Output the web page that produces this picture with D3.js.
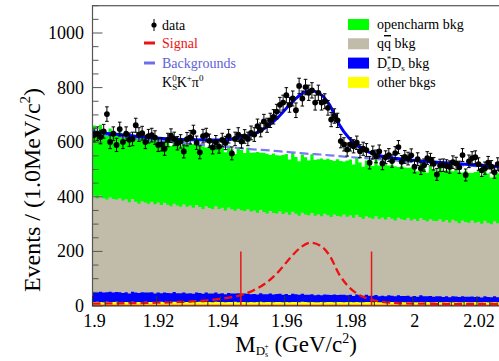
<!DOCTYPE html>
<html>
<head>
<meta charset="utf-8">
<script src="https://cdn.jsdelivr.net/npm/d3@7"></script>
<style>
  body { margin: 0; background: #fff; }
  svg { display: block; font-family: "Liberation Serif", "DejaVu Serif", serif; }
</style>
</head>
<body>
<div id="chart"></div>
<script>
// 1 MeV bins starting at 1.900 GeV
const binLow = 1.9;
const binWidth = 0.001;

const dataCounts = [
  626, 631, 619, 640, 703, 601, 631, 590, 648, 601,
  631, 609, 612, 662, 628, 633, 601, 622, 626, 617,
  590, 592, 576, 608, 624, 612, 596, 603, 566, 611,
  618, 637, 598, 563, 622, 626, 605, 581, 600, 584,
  608, 597, 622, 559, 612, 628, 603, 621, 612, 634,
  628, 659, 645, 676, 662, 680, 693, 712, 737, 745,
  772, 737, 760, 717, 806, 760, 802, 781, 790, 745,
  781, 745, 750, 726, 683, 696, 680, 604, 592, 573,
  592, 585, 598, 567, 576, 571, 525, 562, 548, 566,
  522, 545, 553, 531, 560, 582, 528, 546, 540, 552,
  510, 538, 504, 516, 542, 536, 521, 482, 515, 516,
  513, 509, 527, 522, 508, 553, 480, 530, 542, 545,
  520, 497, 505, 525, 510, 490, 520, 498, 515, 505
];

const openCharm = [
  257, 246, 259, 248, 236, 252, 250, 239, 252, 241,
  240, 249, 235, 243, 246, 231, 244, 238, 229, 241,
  236, 226, 240, 229, 221, 235, 231, 224, 236, 226,
  222, 233, 219, 228, 230, 216, 229, 225, 215, 227,
  224, 213, 227, 219, 208, 223, 220, 212, 226, 215,
  212, 222, 208, 217, 219, 205, 218, 213, 204, 216,
  214, 203, 217, 208, 199, 213, 210, 201, 215, 205,
  202, 211, 198, 207, 209, 196, 208, 203, 194, 206,
  205, 195, 208, 200, 190, 204, 201, 193, 205, 196,
  193, 202, 189, 197, 199, 186, 196, 192, 183, 194,
  193, 183, 196, 188, 178, 192, 189, 181, 194, 185,
  182, 191, 178, 187, 189, 176, 187, 183, 174, 186,
  186, 176, 189, 181, 172, 186, 183, 175, 187, 178
];

const qqbar = [
  353, 345, 353, 346, 340, 346, 343, 339, 345, 338,
  341, 334, 340, 333, 327, 334, 330, 326, 332, 327,
  330, 323, 329, 323, 318, 324, 321, 317, 324, 318,
  321, 315, 321, 315, 310, 316, 313, 309, 316, 310,
  313, 307, 313, 308, 303, 309, 306, 302, 309, 303,
  306, 300, 306, 301, 296, 302, 299, 295, 302, 296,
  299, 294, 300, 295, 290, 297, 294, 291, 298, 292,
  295, 290, 296, 291, 286, 293, 290, 287, 294, 288,
  291, 286, 292, 287, 282, 288, 285, 282, 289, 283,
  286, 281, 287, 282, 277, 284, 281, 278, 285, 279,
  282, 277, 283, 279, 274, 281, 278, 275, 282, 276,
  279, 274, 280, 275, 270, 277, 274, 271, 278, 272,
  275, 270, 276, 271, 267, 274, 271, 268, 275, 269
];

const dsds = [
  36, 33, 37, 35, 34, 37, 34, 35, 36, 33,
  35, 32, 36, 34, 33, 36, 33, 34, 35, 32,
  34, 31, 35, 33, 32, 35, 32, 33, 34, 31,
  33, 30, 34, 32, 31, 34, 31, 32, 33, 30,
  32, 29, 33, 31, 30, 33, 30, 31, 31, 28,
  30, 27, 31, 29, 28, 31, 28, 29, 30, 27,
  29, 26, 30, 28, 27, 29, 26, 27, 28, 25,
  27, 24, 28, 26, 25, 28, 25, 26, 27, 24,
  26, 23, 27, 25, 24, 26, 23, 24, 25, 22,
  24, 21, 25, 23, 22, 25, 22, 23, 23, 20,
  23, 20, 24, 22, 21, 23, 20, 21, 22, 19,
  21, 18, 22, 20, 19, 22, 19, 20, 21, 18,
  20, 17, 21, 19, 18, 21, 18, 19, 19, 16
];

const otherBkg = [
  15, 16, 15, 14, 16, 15, 15, 16, 14, 15,
  15, 14, 16, 15, 15, 14, 16, 15, 15, 14,
  15, 16, 14, 15, 15, 16, 15, 14, 15, 15,
  14, 15, 15, 16, 14, 15, 15, 14, 16, 15,
  15, 14, 15, 15, 16, 14, 15, 15, 14, 15,
  14, 15, 16, 14, 15, 15, 14, 15, 15, 14,
  15, 14, 15, 15, 14, 16, 15, 14, 15, 14,
  14, 15, 14, 15, 15, 14, 15, 15, 14, 15,
  15, 14, 15, 14, 14, 15, 15, 14, 15, 14,
  14, 15, 14, 15, 14, 14, 15, 14, 15, 14,
  14, 14, 15, 14, 15, 14, 14, 15, 14, 14,
  15, 14, 14, 15, 14, 14, 15, 14, 14, 15,
  14, 14, 15, 14, 14, 15, 14, 14, 15, 14
];

// fitted curves, read at these masses
const curveMass = [1.900, 1.910, 1.920, 1.930, 1.940, 1.946, 1.950, 1.954, 1.958, 1.962, 1.965, 1.968, 1.971,
                   1.974, 1.977, 1.980, 1.983, 1.986, 1.990, 1.995, 2.000, 2.010, 2.020, 2.030, 2.040];
const fitTotal = [637, 626, 615, 609, 608, 616, 629, 653, 692, 743, 775, 789, 777,
                  737, 665, 616, 585, 565, 550, 540, 534, 525, 516, 509, 502];
const bkgTotal = [632, 619, 606, 595, 584, 578, 574, 571, 567, 563, 560, 557, 555,
                  552, 549, 546, 543, 541, 537, 532, 528, 520, 512, 505, 498];
const signalShape = [9, 10, 12, 16, 26, 39, 56, 83, 125, 180, 215, 232, 222,
                     185, 116, 70, 42, 26, 16, 11, 9, 8, 8, 8, 8];

const cutMass = [1.9463, 1.9871];
const cutHeight = 200;

const xTickValues = [1.9, 1.92, 1.94, 1.96, 1.98, 2.0, 2.02];
const yTickValues = [0, 200, 400, 600, 800, 1000];

const layerKeys = ['other', 'dsds', 'qq', 'open'];
const layerColors = {open: '#00ff00', qq: '#c0bca9', dsds: '#0000ff', other: '#ffff00'};

const width = 499, height = 361;

const x = d3.scaleLinear().domain([1.9, 2.04]).range([92.5, 541]);
const y = d3.scaleLinear().domain([0, 1100]).range([306, 5.7]);

const svg = d3.select('#chart').append('svg')
    .attr('width', width)
    .attr('height', height);

svg.append('clipPath').attr('id', 'plotClip')
  .append('rect')
    .attr('x', x(1.9)).attr('y', y(1100))
    .attr('width', x(2.04) - x(1.9)).attr('height', y(0) - y(1100));

const plot = svg.append('g').attr('clip-path', 'url(#plotClip)');

// stacked MC histograms
const nBins = dataCounts.length;
const binEdges = d3.range(nBins + 1).map(i => binLow + i * binWidth);
const rows = d3.range(nBins).map(i => ({
  other: otherBkg[i], dsds: dsds[i], qq: qqbar[i], open: openCharm[i]
}));
const series = d3.stack().keys(layerKeys)(rows);

const stepArea = d3.area()
    .curve(d3.curveStepAfter)
    .x(d => x(d.edge))
    .y0(y(0))
    .y1(d => y(d.top));

series.slice().reverse().forEach(s => {
  const pts = s.map((d, i) => ({edge: binEdges[i], top: d[1]}));
  pts.push({edge: binEdges[nBins], top: s[nBins - 1][1]});
  plot.append('path')
      .attr('d', stepArea(pts))
      .attr('fill', layerColors[s.key]);
});

// red baseline
plot.append('line')
    .attr('x1', x(1.9)).attr('x2', x(2.04))
    .attr('y1', y(0) - 0.6).attr('y2', y(0) - 0.6)
    .attr('stroke', '#e00000').attr('stroke-width', 1.2);

const curveLine = vals => d3.line()
    .curve(d3.curveMonotoneX)
    .x((d, i) => x(curveMass[i]))
    .y(d => y(d))(vals);

// signal shape
plot.append('path')
    .attr('d', curveLine(signalShape))
    .attr('fill', 'none')
    .attr('stroke', '#ee1111')
    .attr('stroke-width', 2.3)
    .attr('stroke-dasharray', '8,4');

// signal window
plot.selectAll('.cut')
  .data(cutMass)
  .enter().append('line')
    .attr('class', 'cut')
    .attr('x1', d => x(d)).attr('x2', d => x(d))
    .attr('y1', y(0)).attr('y2', y(cutHeight))
    .attr('stroke', '#e81818')
    .attr('stroke-width', 1.5);

// background line
plot.append('path')
    .attr('d', curveLine(bkgTotal))
    .attr('fill', 'none')
    .attr('stroke', '#7a7af5')
    .attr('stroke-width', 2.2)
    .attr('stroke-dasharray', '9,4');

// total fit
plot.append('path')
    .attr('d', curveLine(fitTotal))
    .attr('fill', 'none')
    .attr('stroke', '#0000ff')
    .attr('stroke-width', 3);

// data with errors
const points = plot.selectAll('.pt')
  .data(dataCounts)
  .enter().append('g')
    .attr('class', 'pt')
    .attr('transform', (d, i) => `translate(${x(binLow + (i + 0.5) * binWidth)},0)`);

points.append('line')
    .attr('y1', d => y(d - Math.sqrt(d)))
    .attr('y2', d => y(d + Math.sqrt(d)))
    .attr('stroke', '#000').attr('stroke-width', 1);
points.append('line')
    .attr('x1', -1.8).attr('x2', 1.8)
    .attr('y1', d => y(d + Math.sqrt(d))).attr('y2', d => y(d + Math.sqrt(d)))
    .attr('stroke', '#000').attr('stroke-width', 1);
points.append('line')
    .attr('x1', -1.8).attr('x2', 1.8)
    .attr('y1', d => y(d - Math.sqrt(d))).attr('y2', d => y(d - Math.sqrt(d)))
    .attr('stroke', '#000').attr('stroke-width', 1);
points.append('circle')
    .attr('cy', d => y(d))
    .attr('r', 2.9)
    .attr('fill', '#000');

// frame and ticks
const axisColor = '#555';
svg.append('rect')
    .attr('x', x(1.9)).attr('y', y(1100))
    .attr('width', x(2.04) - x(1.9)).attr('height', y(0) - y(1100))
    .attr('fill', 'none').attr('stroke', axisColor).attr('stroke-width', 1.2);

const yMinor = d3.range(0, 1101, 50);
svg.selectAll('.ytick')
  .data(yMinor)
  .enter().append('line')
    .attr('x1', x(1.9))
    .attr('x2', d => x(1.9) + (d % 200 === 0 ? 10 : 6))
    .attr('y1', d => y(d)).attr('y2', d => y(d))
    .attr('stroke', axisColor).attr('stroke-width', 1);

const xMinor = d3.range(0, 36).map(i => 1.9 + i * 0.004);
svg.selectAll('.xtick')
  .data(xMinor)
  .enter().append('line')
    .attr('x1', d => x(d)).attr('x2', d => x(d))
    .attr('y1', y(0))
    .attr('y2', (d, i) => y(0) - (i % 5 === 0 ? 10 : 5))
    .attr('stroke', '#333').attr('stroke-width', 1);

svg.selectAll('.ylab')
  .data(yTickValues)
  .enter().append('text')
    .attr('x', 84)
    .attr('y', d => y(d) + 6)
    .attr('text-anchor', 'end')
    .attr('font-size', 18)
    .text(d => d);

svg.selectAll('.xlab')
  .data(xTickValues)
  .enter().append('text')
    .attr('x', d => x(d) + 2)
    .attr('y', 327)
    .attr('text-anchor', 'middle')
    .attr('font-size', 18)
    .text(d => d3.format('')(d));

// axis titles
const yTitle = svg.append('text')
    .attr('transform', 'translate(40,190) rotate(-90)')
    .attr('text-anchor', 'middle')
    .attr('font-size', 24);
yTitle.append('tspan').text('Events / (1.0MeV/c');
yTitle.append('tspan').attr('font-size', 15).attr('dy', -10).text('2');
yTitle.append('tspan').attr('dy', 10).text(')');

const xTitle = svg.append('text')
    .attr('x', 296).attr('y', 352)
    .attr('text-anchor', 'middle')
    .attr('font-size', 23);
xTitle.append('tspan').text('M');
xTitle.append('tspan').attr('font-size', 13).attr('dy', 3).text('D');
xTitle.append('tspan').attr('font-size', 8).attr('dy', 2).text('s');
xTitle.append('tspan').attr('font-size', 8).attr('dx', -4).attr('dy', -8).text('+');
xTitle.append('tspan').attr('dy', 3).text(' (GeV/c');
xTitle.append('tspan').attr('font-size', 14).attr('dy', -9).text('2');
xTitle.append('tspan').attr('dy', 9).text(')');

// left legend
const legL = svg.append('g').attr('font-size', 14);
legL.append('line').attr('x1', 154).attr('x2', 154).attr('y1', 19).attr('y2', 31)
    .attr('stroke', '#000').attr('stroke-width', 1);
legL.append('circle').attr('cx', 154).attr('cy', 25).attr('r', 2.6).attr('fill', '#000');
legL.append('text').attr('x', 162).attr('y', 30).text('data');
legL.append('line').attr('x1', 144).attr('x2', 155).attr('y1', 43).attr('y2', 43)
    .attr('stroke', '#ee1111').attr('stroke-width', 3);
legL.append('text').attr('x', 162).attr('y', 48).attr('fill', '#ee1111').text('Signal');
legL.append('line').attr('x1', 144).attr('x2', 155).attr('y1', 63).attr('y2', 63)
    .attr('stroke', '#6e6ee8').attr('stroke-width', 3);
legL.append('text').attr('x', 162).attr('y', 68).attr('fill', '#6262d8').text('Backgrounds');

const decay = legL.append('text').attr('x', 162).attr('y', 87);
decay.append('tspan').text('K');
decay.append('tspan').attr('font-size', 9).attr('dy', 3).text('S');
decay.append('tspan').attr('font-size', 9).attr('dx', -5).attr('dy', -9).text('0');
decay.append('tspan').attr('dy', 6).text('K');
decay.append('tspan').attr('font-size', 9).attr('dy', -6).text('+');
decay.append('tspan').attr('dy', 6).text('π');
decay.append('tspan').attr('font-size', 9).attr('dy', -6).text('0');

// right legend
const legendRows = ['open', 'qq', 'dsds', 'other'];
const legR = svg.append('g').attr('font-size', 14);
legR.selectAll('rect')
  .data(legendRows)
  .enter().append('rect')
    .attr('x', 348).attr('y', (d, i) => 19 + i * 19.3)
    .attr('width', 21).attr('height', 11)
    .attr('fill', d => layerColors[d]);

legR.append('text').attr('x', 377).attr('y', 29).text('opencharm bkg');
const qqText = legR.append('text').attr('x', 377).attr('y', 48);
qqText.append('tspan').text('q');
qqText.append('tspan').style('text-decoration', 'overline').text('q');
qqText.append('tspan').text(' bkg');
const dsText = legR.append('text').attr('x', 377).attr('y', 68);
dsText.append('tspan').text('D');
dsText.append('tspan').attr('font-size', 9).attr('dy', 3).text('s');
dsText.append('tspan').attr('font-size', 9).attr('dx', -4).attr('dy', -9).text('*');
dsText.append('tspan').attr('dy', 6).text('D');
dsText.append('tspan').attr('font-size', 9).attr('dy', 3).text('s');
dsText.append('tspan').attr('dy', -3).text(' bkg');
legR.append('text').attr('x', 377).attr('y', 87).text('other bkgs');
</script>
</body>
</html>
